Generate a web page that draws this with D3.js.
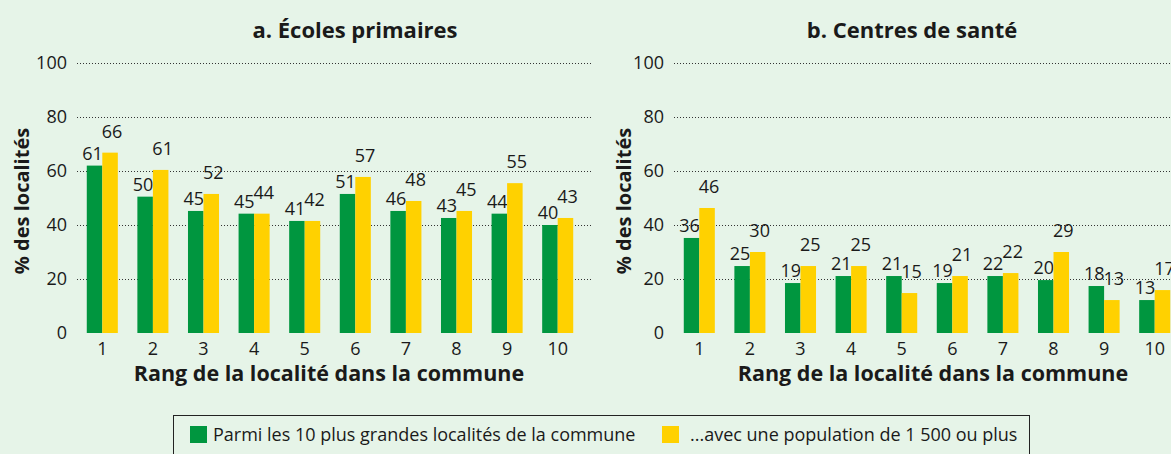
<!DOCTYPE html>
<html>
<head>
<meta charset="utf-8">
<script src="https://cdn.jsdelivr.net/npm/d3@7"></script>
<style>
  html, body { margin: 0; padding: 0; background: #e6f4e8; }
  svg { display: block; font-family: "Open Sans", Roboto, sans-serif; }
</style>
</head>
<body>
<div id="chart"></div>
<script>
// Data
const ranks = ["1", "2", "3", "4", "5", "6", "7", "8", "9", "10"];
const seriesNames = ["Parmi les 10 plus grandes localités de la commune", "...avec une population de 1 500 ou plus"];
const yTicks = [0, 20, 40, 60, 80, 100];

// a. Écoles primaires
const ecolesTop10 = [62, 50.5, 45.2, 44.2, 41.5, 51.5, 45.2, 42.6, 44.2, 40];
const ecoles1500 = [66.8, 60.4, 51.5, 44.2, 41.5, 57.8, 48.9, 45.2, 55.5, 42.6];
const ecolesTop10Labels = ["61", "50", "45", "45", "41", "51", "46", "43", "44", "40"];
const ecoles1500Labels = ["66", "61", "52", "44", "42", "57", "48", "45", "55", "43"];

// b. Centres de santé
const santeTop10 = [35.2, 24.8, 18.5, 21.1, 21.1, 18.5, 21.1, 19.6, 17.4, 12.2];
const sante1500 = [46.3, 30, 24.8, 24.8, 14.8, 21.1, 22.2, 30, 12.2, 15.9];
const santeTop10Labels = ["36", "25", "19", "21", "21", "19", "22", "20", "18", "13"];
const sante1500Labels = ["46", "30", "25", "25", "15", "21", "22", "29", "13", "17"];

const colors = ["#00963f", "#ffd100"];
const textColor = "#1a1a1a";

const W = 1171, H = 454;
const svg = d3.select("#chart").append("svg")
  .attr("width", W)
  .attr("height", H);

svg.append("rect").attr("width", W).attr("height", H).attr("fill", "#e6f4e8");

const y = d3.scaleLinear().domain([0, 100]).range([333, 63]);

const panels = [
  { title: "a. Écoles primaires", x0: 77, x1: 583, titleX: 355, yTitleX: 29, xTitleX: 329,
    values: [ecolesTop10, ecoles1500], labels: [ecolesTop10Labels, ecoles1500Labels] },
  { title: "b. Centres de santé", x0: 674, x1: 1180, titleX: 912, yTitleX: 631, xTitleX: 933,
    values: [santeTop10, sante1500], labels: [santeTop10Labels, sante1500Labels] }
];

panels.forEach(p => {
  const g = svg.append("g");

  const x = d3.scaleBand().domain(ranks).range([p.x0, p.x1]);
  const xs = d3.scaleBand().domain([0, 1]).range([0, x.bandwidth()]).paddingOuter(0.63);

  // Gridlines + y tick labels
  const yAxis = g.append("g")
    .attr("transform", `translate(${p.x0},0)`)
    .call(d3.axisLeft(y).tickValues(yTicks).tickSize(-(p.x1 - p.x0 + 8)).tickPadding(10));
  yAxis.select(".domain").remove();
  yAxis.selectAll(".tick line")
    .attr("stroke", "#333")
    .attr("stroke-dasharray", "1,2")
    .attr("opacity", d => d === 0 ? 0 : 1);
  yAxis.selectAll(".tick text")
    .style("font-size", "18px")
    .style("font-family", "'Open Sans', sans-serif")
    .attr("fill", textColor);

  // Bars
  p.values.forEach((vals, si) => {
    g.selectAll(`.bar${si}`)
      .data(vals)
      .enter()
      .append("rect")
      .attr("x", (d, i) => x(ranks[i]) + xs(si))
      .attr("y", d => y(d))
      .attr("width", xs.bandwidth())
      .attr("height", d => y(0) - y(d))
      .attr("fill", colors[si]);

    // Value labels
    g.selectAll(`.lab${si}`)
      .data(vals)
      .enter()
      .append("text")
      .attr("x", (d, i) => x(ranks[i]) + xs(si) + xs.bandwidth() / 2 + (si === 0 ? -2 : 2))
      .attr("y", d => y(d) - (si === 0 ? 6 : 15))
      .attr("text-anchor", "middle")
      .style("font-size", "18px")
      .attr("fill", textColor)
      .text((d, i) => p.labels[si][i]);
  });

  // X tick labels
  const xAxis = g.append("g")
    .attr("transform", `translate(0,${y(0)})`)
    .call(d3.axisBottom(x).tickSize(0).tickPadding(9));
  xAxis.select(".domain").remove();
  xAxis.selectAll(".tick text")
    .style("font-size", "18px")
    .style("font-family", "'Open Sans', sans-serif")
    .attr("fill", textColor);

  // Titles
  g.append("text")
    .attr("x", p.titleX)
    .attr("y", 38)
    .attr("text-anchor", "middle")
    .style("font-size", "22px")
    .style("font-weight", "bold")
    .attr("fill", textColor)
    .text(p.title);

  g.append("text")
    .attr("x", p.xTitleX)
    .attr("y", 381)
    .attr("text-anchor", "middle")
    .style("font-size", "21.5px")
    .style("font-weight", "bold")
    .attr("fill", textColor)
    .text("Rang de la localité dans la commune");

  g.append("text")
    .attr("transform", `translate(${p.yTitleX},201) rotate(-90)`)
    .attr("text-anchor", "middle")
    .style("font-size", "20px")
    .style("font-weight", "bold")
    .attr("fill", textColor)
    .text("% des localités");
});

// Legend
const legend = svg.append("g");
legend.append("rect")
  .attr("x", 173.5).attr("y", 415.5)
  .attr("width", 856).attr("height", 50)
  .attr("fill", "none")
  .attr("stroke", "#222")
  .attr("stroke-width", 1);

const legendX = [190, 662];
seriesNames.forEach((name, i) => {
  legend.append("rect")
    .attr("x", legendX[i]).attr("y", 426)
    .attr("width", 17).attr("height", 17)
    .attr("fill", colors[i]);
  legend.append("text")
    .attr("x", legendX[i] + (i === 0 ? 23 : 28))
    .attr("y", 441)
    .style("font-size", "18px")
    .attr("fill", textColor)
    .text(name);
});
</script>
</body>
</html>
